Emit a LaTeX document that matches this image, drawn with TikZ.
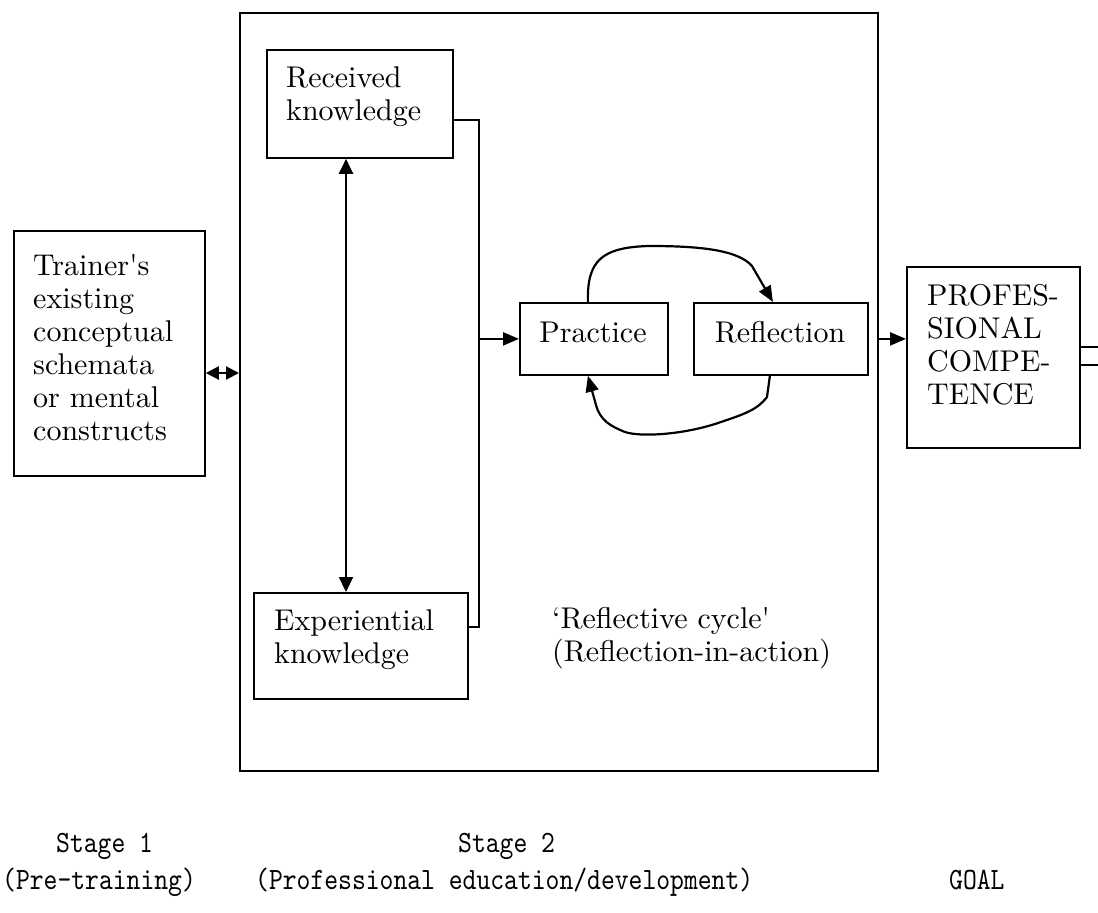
\documentclass[tikz,border=0pt]{standalone}
\usepackage{fontspec}
\setmainfont{lmroman10-regular.otf}[Ligatures=TeXOff]
\newfontfamily\stagefont{lmmono10-regular.otf}[FakeStretch=0.85]
\usetikzlibrary{arrows.meta}
\begin{document}
\begin{tikzpicture}[x=1pt,y=-1pt,
  box/.style={draw,line width=1.8pt,inner sep=0,anchor=north west},
  txt/.style={inner sep=0,anchor=base west,align=left,text width=400pt,font=\fontsize{30}{33}\selectfont},
  ctxt/.style={inner sep=0,anchor=base,font=\fontsize{30}{33}\selectfont},
  conn/.style={line width=1.8pt},
  arr/.style={line width=2.2pt,-{Triangle[length=16pt,width=13pt]}},
  darr/.style={line width=2.2pt,{Triangle[length=15pt,width=14pt]}-{Triangle[length=15pt,width=14pt]}},
  sdarr/.style={line width=2.2pt,{Triangle[length=13pt,width=13pt]}-{Triangle[length=13pt,width=13pt]}},
  stage/.style={inner sep=0,anchor=base west,font=\stagefont\fontsize{31}{34}\selectfont}]
\useasboundingbox (0,0) rectangle (1098,913);
% boxes
\node[box,minimum width=638pt,minimum height=758pt] (big) at (239,12) {};
\node[box,minimum width=191pt,minimum height=245pt] (trainer) at (13,230) {};
\node[box,minimum width=186pt,minimum height=108pt] (recv) at (266,49) {};
\node[box,minimum width=214pt,minimum height=106pt] (exper) at (253,592) {};
\node[box,minimum width=148pt,minimum height=72pt] (prac) at (519,302) {};
\node[box,minimum width=174pt,minimum height=72pt] (refl) at (693,302) {};
\node[box,minimum width=173pt,minimum height=181pt] (goal) at (906,266) {};
% texts
\node[txt] (trainert) at (33,275) {Trainer's\\existing\\conceptual\\schemata\\or mental\\constructs};
\node[txt] (recvt) at (286,87) {Received\\knowledge};
\node[txt] (expert) at (274,630) {Experiential\\knowledge};
\node[ctxt] (pract) at (593,342) {Practice};
\node[ctxt] (reflt) at (780,342) {Reflection};
\node[txt] (goalt) at (927,305) {PROFES-\\SIONAL\\COMPE-\\TENCE};
\node[txt] (cyclet) at (552,628) {‘Reflective cycle'\\(Reflection-in-action)};
% helper coordinates
\coordinate (j1) at (479,120);
\coordinate (j2) at (479,627);
\coordinate (va) at (346,0);
\coordinate (ha) at (0,373);
\coordinate (o1) at (1098,347);
\coordinate (o2) at (1098,365);
% connectors
\draw[conn] (recv.east |- j1) -- (j1) -- (j2) -- (exper.east |- j2);
\draw[arr] (j1 |- prac.west) -- (prac.west);
\draw[darr] (recv.south -| va) -- (exper.north -| va);
\draw[sdarr] (trainer.east |- ha) -- (big.west |- ha);
\draw[arr] (big.east |- prac.east) -- (goal.west |- prac.east);
\draw[conn] (goal.east |- o1) -- (o1);
\draw[conn] (goal.east |- o2) -- (o2);
% cycle
\draw[arr] ([xshift=-6pt]prac.north) .. controls (587,262) and (600,247) .. (650,246)
  .. controls (700,246) and (738,250) .. (752,266) -- ([xshift=-8pt]refl.north);
\draw[arr] ([xshift=-11pt]refl.south) -- (767,397) .. controls (757,410) and (745,414) .. (715,424)
  .. controls (680,435) and (640,437) .. (625,432) .. controls (610,426) and (600,420) .. (596,405)
  -- ([xshift=-6pt]prac.south);
% bottom labels
\node[stage] (s1) at (56,852) {Stage 1};
\node[stage] (p1) at (2,889) {(Pre-training)};
\node[stage] (s2) at (458,852) {Stage 2};
\node[stage] (p2) at (255,889) {(Professional education/development)};
\node[stage] (gl) at (949,889) {GOAL};
\end{tikzpicture}
\end{document}
